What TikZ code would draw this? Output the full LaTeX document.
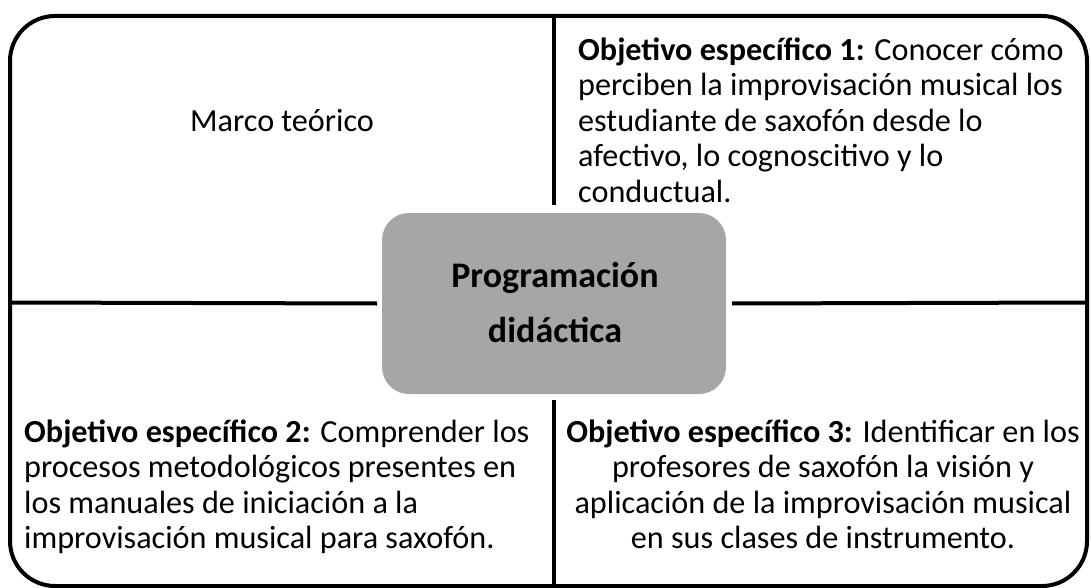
\documentclass[tikz,border=0pt]{standalone}
\usepackage{fontspec}
\setmainfont{Carlito}
\definecolor{boxgray}{RGB}{166,166,166}
\newcommand{\firstline}[1]{\rule{0pt}{#1}}
\begin{document}
\begin{tikzpicture}[x=1pt,y=-1pt,
  frame/.style={draw=black,line width=4pt,rounded corners=45pt},
  divider/.style={draw=black,line width=4pt},
  centerbox/.style={fill=boxgray,rounded corners=27pt,minimum width=344pt,minimum height=181pt,inner sep=0pt},
  centertext/.style={inner sep=0pt,align=center,anchor=north,font=\fontsize{36}{55}\selectfont\bfseries},
  bodytext/.style={inner sep=0pt,font=\fontsize{32.2}{35.5}\selectfont}
]
\useasboundingbox (0,0) rectangle (1091,588);
\draw[frame] (10,16) rectangle (1087,586);
\coordinate (ftop) at (554,16);
\coordinate (fbot) at (554,586);
\coordinate (fleft) at (10,302.5);
\coordinate (fright) at (1087,302.5);
\node[centerbox] (c) at (554,303.5) {};
\node[centertext] (ct) at (555,247) {\firstline{40pt}Programación\\didáctica};
\draw[divider] (ftop) -- ([yshift=8pt]c.north);
\draw[divider] ([yshift=-6pt]c.south) -- (fbot);
\draw[divider] (fleft) -- (c.west -| 377,0);
\draw[divider] (c.east -| 732,0) -- (fright);
\node[bodytext,anchor=base] (mt) at (282,132) {Marco teórico};
\node[bodytext,anchor=north west,align=left] (o1) at (578,30) {\firstline{30pt}\textbf{Objetivo específico 1:} Conocer cómo\\perciben la improvisación musical los\\estudiante de saxofón desde lo\\afectivo, lo cognoscitivo y lo\\conductual.};
\node[bodytext,anchor=north west,align=left] (o2) at (24,412) {\firstline{30pt}\textbf{Objetivo específico 2:} Comprender los\\procesos metodológicos presentes en\\los manuales de iniciación a la\\improvisación musical para saxofón.};
\node[bodytext,anchor=north,align=center] (o3) at (823,412) {\firstline{30pt}\textbf{Objetivo específico 3:} Identificar en los\\profesores de saxofón la visión y\\aplicación de la improvisación musical\\en sus clases de instrumento.};
\end{tikzpicture}
\end{document}
